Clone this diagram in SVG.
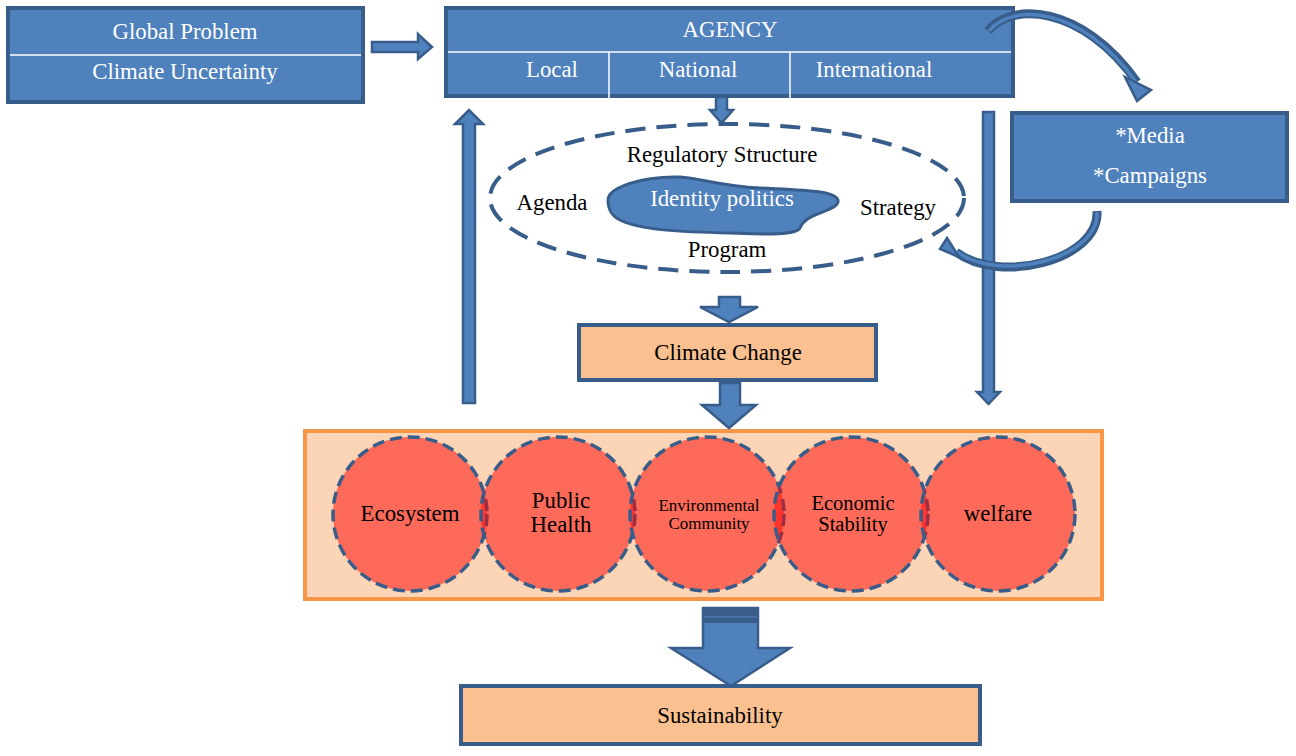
<svg xmlns="http://www.w3.org/2000/svg" width="1296" height="756" viewBox="0 0 1296 756">
<style>
.box{fill:#4f81bd;stroke:#385d8a;stroke-width:4}
.peach{fill:#fac08f;stroke:#385d8a;stroke-width:4}
text{font-family:'Liberation Serif','DejaVu Serif',serif;font-size:22.8px;text-anchor:middle}
.wt{fill:#ffffff}
.bt{fill:#000000}
.div{stroke:#ffffff;stroke-width:1.5}
.arr{fill:#4f81bd;stroke:#385d8a;stroke-width:2.5;stroke-linejoin:miter}
.circ{fill:#ff0000;fill-opacity:0.5;stroke:#385d8a;stroke-width:3.5;stroke-dasharray:12 6}
.cdark{fill:none;stroke:#385d8a;stroke-width:9;stroke-linecap:butt}
.clight{fill:none;stroke:#4f81bd;stroke-width:3.5;stroke-linecap:butt}
</style>
<rect width="1296" height="756" fill="#ffffff"/>

<g id="global-problem">
<rect class="box" x="8" y="8" width="355" height="94"/>
<line class="div" x1="10" y1="55" x2="361" y2="55"/>
<text class="wt" x="185" y="39">Global Problem</text>
<text class="wt" x="185" y="79">Climate Uncertainty</text>
</g>

<g id="agency">
<rect class="box" x="446" y="8" width="567" height="88"/>
<line class="div" x1="448" y1="52" x2="1011" y2="52"/>
<line class="div" x1="609" y1="52" x2="609" y2="98"/>
<line class="div" x1="790" y1="52" x2="790" y2="98"/>
<text class="wt" x="730" y="37">AGENCY</text>
<text class="wt" x="552" y="77">Local</text>
<text class="wt" x="698" y="77">National</text>
<text class="wt" x="874" y="77">International</text>
</g>

<g id="media">
<rect class="box" x="1012" y="113" width="275" height="88"/>
<text class="wt" x="1150" y="143">*Media</text>
<text class="wt" x="1150" y="183">*Campaigns</text>
</g>

<g id="regulatory">
<ellipse cx="727" cy="198" rx="237" ry="74" fill="none" stroke="#385d8a" stroke-width="4" stroke-dasharray="20 11"/>
<text class="bt" x="722" y="162">Regulatory Structure</text>
<text class="bt" x="552" y="210">Agenda</text>
<text class="bt" x="898" y="215">Strategy</text>
<text class="bt" x="727" y="257">Program</text>
</g>

<g id="identity-politics">
<path d="M608,200 C608,188 640,176 680,177 C700,178 720,186 760,188 C800,190 840,190 838,202 C836,212 806,212 800,228 C796,236 760,234 730,233 C680,232 640,230 620,220 C610,215 608,208 608,200 Z" fill="#4f81bd" stroke="#385d8a" stroke-width="3"/>
<text class="wt" x="722" y="206">Identity politics</text>
</g>

<g id="climate-change">
<rect class="peach" x="579" y="325" width="297" height="55"/>
<text class="bt" x="728" y="360">Climate Change</text>
</g>

<g id="impacts">
<rect x="305" y="431" width="797" height="168" fill="#fbd5b5" stroke="#f79646" stroke-width="4"/>
<g id="ecosystem">
<circle class="circ" cx="410" cy="514" r="77"/>
<text class="bt" x="410" y="521">Ecosystem</text>
</g>
<g id="public-health">
<circle class="circ" cx="558" cy="514" r="77"/>
<text class="bt" x="561" y="508">Public</text>
<text class="bt" x="561" y="532">Health</text>
</g>
<g id="environmental-community">
<circle class="circ" cx="707" cy="514" r="77"/>
<text class="bt" x="709" y="511" style="font-size:17px">Environmental</text>
<text class="bt" x="709" y="529" style="font-size:17px">Community</text>
</g>
<g id="economic-stability">
<circle class="circ" cx="851" cy="514" r="77"/>
<text class="bt" x="853" y="510" style="font-size:20.5px">Economic</text>
<text class="bt" x="853" y="531" style="font-size:20.5px">Stability</text>
</g>
<g id="welfare">
<circle class="circ" cx="998" cy="514" r="77"/>
<text class="bt" x="998" y="521">welfare</text>
</g>
</g>

<g id="sustainability">
<rect class="peach" x="461" y="686" width="519" height="58"/>
<text class="bt" x="720" y="723">Sustainability</text>
</g>

<g id="connectors">
<polygon class="arr" points="372,42 418,42 418,34 432,47 418,59 418,52 372,52"/>
<polygon class="arr" points="716,97 727,97 727,110 733,110 721.5,123 710,110 716,110"/>
<polygon class="arr" points="463,403 463,124 455,124 469,110 483,124 475,124 475,403"/>
<polygon class="arr" points="983,112 994,112 994,392 1000,392 988.5,404 977,392 983,392"/>
<polygon class="arr" points="719,297 740,297 740,307 758,307 729,322 700,307 719,307"/>
<polygon class="arr" points="720,383 740,383 740,405 756,405 729,428 702,405 720,405"/>
<polygon class="arr" points="703,608 758,608 758,648 790,648 731,686 671,648 703,648"/>
<rect x="704" y="609" width="53" height="14" fill="#385d8a"/>
<line x1="704" y1="617" x2="757" y2="617" stroke="#5a86bd" stroke-width="1"/>
<path class="cdark" d="M988,31 C1010,2 1082,4 1137,82"/>
<path class="clight" d="M989,31 C1011,3 1081,5 1136,82"/>
<polygon class="arr" points="1125,77 1151,90 1137,101"/>
<path class="cdark" d="M1097,211 C1100,260 1000,285 956,252"/>
<path class="clight" d="M1097,212 C1099,259 1000,283 957,252"/>
<polygon class="arr" points="947,238 959,257 940,249"/>
</g>
</svg>
